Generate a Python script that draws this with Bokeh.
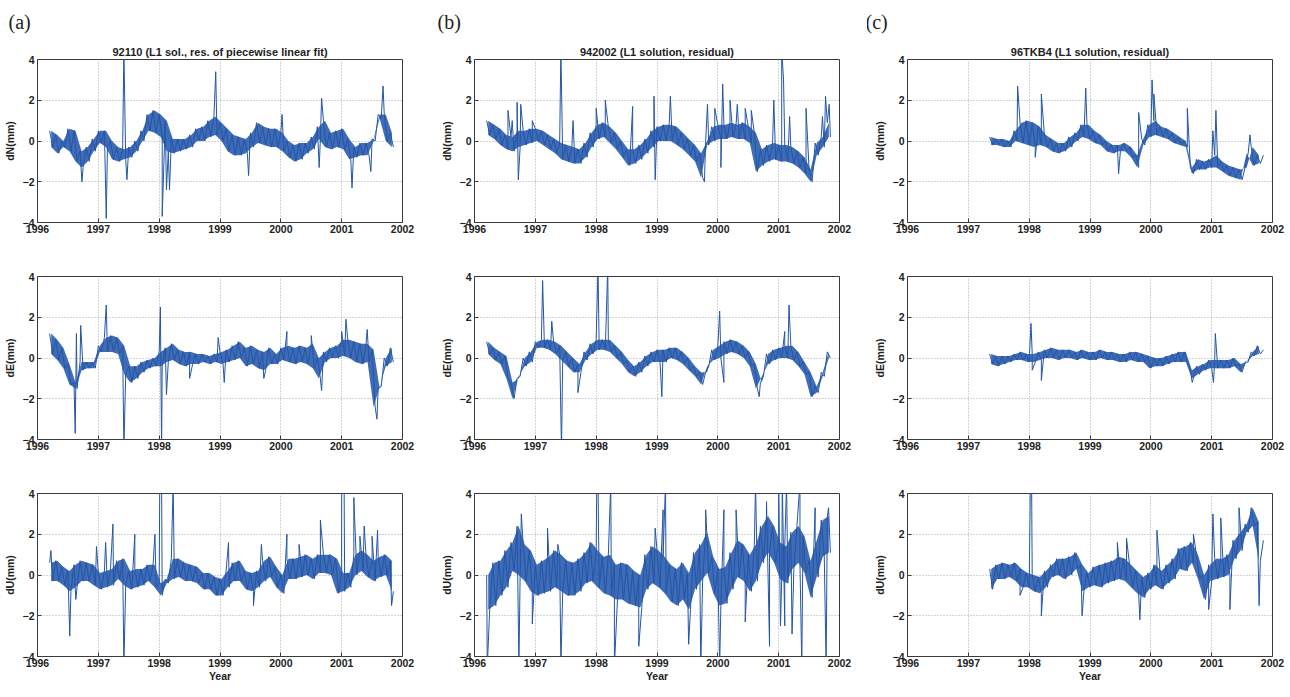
import numpy as np
from bokeh.plotting import figure
from bokeh.models import FixedTicker, Title
from bokeh.layouts import row, column
from bokeh.embed import file_html
from bokeh.resources import INLINE

# ---------------- data (mm residuals) ----------------
DT = 0.05
T0_AB = 1996.20          # first sample of stations 92110 and 942002
T0_C = 1997.35           # first sample of station 96TKB4
YEARS = [1996, 1997, 1998, 1999, 2000, 2001, 2002]
YTICKS = [-4, -2, 0, 2, 4]

# (a) 92110
a_dN = [0.5, -0.3, 0.3, -0.6, 0.0, -0.3, 0.6, -0.5, 0.5, -1.0, -0.5, -1.3, -0.3, -1.0, 0.1, -0.5,
        0.5, -0.1, 0.5, -0.3, 0.0, -0.9, -0.3, -1.0, -0.4, -0.9, -0.3, -0.8, 0.0, -0.5, 0.5, 0.0,
        1.3, 0.5, 1.5, 0.4, 1.3, 0.2, 1.0, -0.5, 0.1, -0.6, 0.1, -0.5, 0.1, -0.4, 0.3, -0.3,
        0.6, 0.0, 0.7, 0.0, 1.0, 0.2, 1.2, 0.3, 0.9, 0.0, 0.6, -0.5, 0.3, -0.7, 0.2, -0.7,
        0.1, -0.6, 0.4, -0.3, 0.9, -0.1, 0.7, -0.2, 0.6, -0.3, 0.6, -0.3, 0.4, -0.5, 0.0, -0.8,
        -0.2, -1.0, -0.1, -0.9, -0.1, -0.6, 0.2, -0.4, 0.7, 0.1, 1.0, -0.3, 0.4, -0.4, 0.5, -0.3,
        0.6, -0.4, 0.1, -0.9, -0.3, -0.8, -0.1, -0.7, -0.1, -0.7, 0.1, 0.0, 1.3, 1.1, 1.3, 0.0,
        0.4, -0.3]
a_dN_spike_t = [1996.73, 1997.13, 1997.42, 1997.47, 1998.05, 1998.12, 1998.17, 1998.93, 1999.47,
                2000.02, 2000.63, 2000.67, 2001.17, 2001.48, 2001.68]
a_dN_spike_v = [-2.0, -3.8, 4.5, -1.9, -3.7, -2.4, -2.4, 3.4, -1.7,
                1.3, -1.3, 2.1, -2.3, -1.5, 2.7]

a_dE = [1.2, 0.2, 0.9, -0.1, 0.5, -0.5, -0.3, -1.3, -1.2, -1.5, -0.2, -0.6, -0.2, -0.5, -0.2, -0.5,
        0.6, 0.3, 1.0, 0.3, 1.1, 0.3, 1.0, 0.2, 0.6, -0.8, -0.4, -1.2, -0.4, -1.0, -0.2, -0.7,
        -0.1, -0.5, 0.0, -0.4, 0.3, -0.4, 0.5, -0.2, 0.7, -0.1, 0.4, -0.3, 0.3, -0.4, 0.3, -0.3,
        0.2, -0.3, 0.2, -0.2, 0.1, -0.3, 0.2, -0.2, 0.3, -0.3, 0.4, -0.2, 0.6, -0.1, 0.8, 0.0,
        0.5, -0.4, 0.6, -0.3, 0.4, -0.5, 0.3, -0.6, 0.5, -0.3, 0.2, -0.3, 0.5, -0.1, 0.6, -0.2,
        0.5, -0.3, 0.6, -0.2, 0.5, -0.3, 0.7, -0.5, 0.0, -1.0, 0.3, -0.2, 0.5, 0.0, 0.6, 0.0,
        0.9, 0.1, 0.9, 0.0, 0.8, -0.2, 0.7, -0.3, 0.7, -0.2, 0.4, -2.4, -1.5, -1.4, 0.0, -0.4,
        0.5, -0.2]
a_dE_spike_t = [1996.62, 1996.64, 1996.71, 1997.13, 1997.42, 1998.02, 1998.04, 1998.12, 1998.50,
                1998.97, 1999.07, 1999.72, 2000.10, 2000.50, 2000.67, 2001.00, 2001.07, 2001.42, 2001.58]
a_dE_spike_v = [-3.7, 1.2, 1.6, 2.6, -4.5, 2.5, -4.5, -1.8, -1.0,
                1.0, -1.2, -1.0, 1.3, 1.1, -1.6, 1.3, 1.9, 1.4, -3.0]

a_dU = [0.6, -0.3, 0.7, -0.3, 0.4, -0.5, 0.2, -0.8, 0.5, -0.6, 0.7, -0.3, 0.6, -0.3, 0.5, -0.5,
        0.1, -0.7, 0.2, -0.6, 0.3, -0.5, 0.7, -0.2, 0.8, -0.5, 0.2, -0.7, 0.3, -0.6, 0.3, -0.5,
        0.5, -0.3, 0.5, -0.6, -0.4, -1.0, -0.2, -0.4, 0.8, -0.2, 0.8, -0.1, 0.6, -0.3, 0.5, -0.3,
        0.4, -0.4, 0.1, -0.7, 0.1, -0.7, -0.1, -1.0, -0.2, -1.0, 0.2, -0.6, 0.6, -0.3, 0.7, -0.3,
        0.2, -0.7, 0.1, -0.8, 0.2, -0.6, 0.7, -0.3, 0.9, -0.1, 0.4, -0.6, 0.0, -0.9, 0.8, -0.2,
        0.8, -0.2, 0.9, -0.1, 1.0, 0.0, 0.8, -0.2, 1.0, 0.1, 1.0, 0.1, 1.0, 0.0, 0.8, -0.9,
        0.1, -0.8, 0.1, -0.6, 1.0, 0.0, 1.2, 0.2, 1.0, -0.1, 0.7, -0.3, 0.9, -0.1, 1.0, 0.0,
        0.7, -0.8]
a_dU_spike_t = [1996.22, 1996.53, 1996.63, 1996.97, 1997.12, 1997.24, 1997.42, 1997.60, 1997.93,
                1998.01, 1998.04, 1998.23, 1999.14, 1999.55, 1999.68, 2000.10, 2000.30, 2000.65,
                2001.00, 2001.04, 2001.20, 2001.30, 2001.37, 2001.50, 2001.59, 2001.82]
a_dU_spike_v = [1.2, -3.0, -1.2, 1.4, 1.6, 2.5, -4.5, 2.0, 2.0,
                4.5, 4.5, 4.5, 1.6, -1.5, 1.5, 2.0, 1.5, 2.7,
                4.5, 4.5, 3.8, 1.9, 2.4, 1.9, 2.2, -1.5]

# (b) 942002
b_dN = [1.0, 0.3, 0.8, 0.1, 0.6, -0.2, 0.3, -0.4, 0.2, -0.5, 0.5, -0.3, 0.5, -0.2, 0.6, -0.1,
        0.6, 0.0, 0.5, -0.2, 0.3, -0.4, 0.1, -0.6, -0.1, -0.9, -0.2, -1.0, -0.3, -1.1, -0.4, -1.1,
        -0.1, -0.8, 0.4, -0.3, 0.8, 0.1, 0.9, 0.2, 0.7, -0.1, 0.4, -0.4, 0.0, -0.8, -0.4, -1.2,
        -0.4, -1.1, -0.2, -0.9, 0.1, -0.6, 0.5, -0.3, 0.7, 0.0, 0.8, 0.0, 0.8, 0.0, 0.7, -0.2,
        0.4, -0.4, 0.1, -0.7, -0.2, -1.0, -0.6, -1.8, 0.0, -0.2, 0.7, 0.0, 0.8, 0.1, 0.8, 0.1,
        0.9, 0.2, 0.8, 0.1, 0.9, 0.1, 0.7, -0.1, 0.4, -1.5, -0.4, -1.2, -0.2, -1.0, -0.1, -0.9,
        -0.2, -1.0, -0.2, -1.0, -0.3, -1.1, -0.5, -1.3, -0.8, -1.6, -1.4, -2.0, -0.1, -0.7, 0.2, -0.3,
        0.9, 0.2]
b_dN_spike_t = [1996.55, 1996.62, 1996.70, 1996.72, 1996.76, 1996.95, 1997.42, 1997.62, 1998.00,
                1998.15, 1998.60, 1998.95, 1998.97, 1999.22, 1999.78, 1999.83, 1999.95, 2000.05,
                2000.08, 2000.20, 2000.32, 2000.45, 2000.55, 2000.92, 2001.05, 2001.08, 2001.18,
                2001.45, 2001.72, 2001.77, 2001.83]
b_dN_spike_v = [1.5, 1.0, 1.9, -1.9, 1.8, 1.0, 4.5, 1.0, 1.6,
                2.0, 1.7, 2.2, -1.9, 2.2, -2.0, 1.8, 1.6, -1.3,
                2.8, 2.0, 1.8, 1.6, 1.5, 2.0, 4.5, 3.0, 1.2,
                1.6, 1.2, 2.2, 1.8]

b_dE = [0.8, 0.2, 0.5, -0.1, 0.3, -0.3, 0.1, -1.0, -1.2, -2.0, -1.0, -0.9, 0.0, -0.4, 0.3, -0.2,
        0.8, 0.5, 0.9, 0.5, 0.9, 0.4, 0.8, 0.2, 0.6, -0.1, 0.3, -0.4, 0.0, -0.7, -0.3, -0.7,
        0.3, -0.1, 0.7, 0.2, 0.9, 0.4, 0.9, 0.4, 0.9, 0.3, 0.6, 0.0, 0.3, -0.3, -0.1, -0.7,
        -0.4, -0.9, -0.2, -0.7, 0.1, -0.4, 0.3, -0.2, 0.4, -0.2, 0.4, -0.2, 0.5, 0.0, 0.5, -0.1,
        0.3, -0.3, 0.0, -0.6, -0.4, -0.9, -0.7, -1.3, -0.7, -0.4, 0.4, -0.1, 0.6, 0.0, 0.8, 0.2,
        0.9, 0.3, 0.8, 0.2, 0.6, 0.0, 0.3, -0.4, -0.3, -1.5, -1.2, -0.9, 0.2, -0.3, 0.4, -0.1,
        0.5, 0.0, 0.6, 0.0, 0.6, -0.1, 0.3, -0.4, -0.2, -0.8, -0.7, -1.9, -1.4, -1.7, -0.7, -0.9,
        0.3, 0.0]
b_dE_spike_t = [1997.12, 1997.27, 1997.43, 1997.70, 1998.03, 1998.19, 1999.08, 2000.03, 2000.10,
                2000.68, 2001.10, 2001.17]
b_dE_spike_v = [3.8, 1.8, -4.5, -1.7, 4.5, 4.5, -1.9, 2.3, -1.2,
                -1.9, 1.3, 2.6]

b_dU = [0.0, -1.7, 0.6, -1.5, 0.7, -1.0, 1.2, -0.6, 1.6, 0.2, 2.4, 0.0, 1.5, -0.3, 1.2, -0.8,
        0.5, -1.0, 0.7, -0.9, 0.9, -0.8, 1.2, -0.6, 1.0, -0.8, 0.7, -1.0, 0.6, -1.0, 0.8, -0.8,
        1.1, -0.4, 1.6, -0.3, 1.2, -0.6, 0.9, -0.9, 1.0, -1.0, 0.5, -1.2, 0.6, -1.2, 0.5, -1.4,
        0.2, -1.5, 0.0, -1.6, 1.0, -0.7, 1.4, -0.4, 1.2, -0.6, 0.9, -0.9, 0.5, -1.3, 0.3, -1.5,
        0.6, -1.2, 0.1, -1.7, 1.1, -0.7, 1.5, -0.3, 2.1, 0.1, 0.9, -0.9, 0.3, -1.5, 0.4, -1.4,
        1.1, -0.7, 1.7, -0.1, 1.5, -0.3, 1.0, -0.8, 1.5, -0.3, 2.4, 0.6, 2.9, 1.1, 2.4, 0.6,
        1.6, -0.2, 1.4, -0.4, 2.1, 0.3, 2.4, 0.6, 1.9, 0.1, 0.7, -1.1, 1.7, -0.1, 2.7, 0.9,
        2.9, 1.1]
b_dU_spike_t = [1996.21, 1996.73, 1996.77, 1996.95, 1997.20, 1997.37, 1997.42, 1998.01, 1998.03,
                1998.24, 1998.30, 1998.70, 1998.97, 1999.10, 1999.14, 1999.52, 1999.72, 1999.80,
                2000.03, 2000.10, 2000.30, 2000.45, 2000.62, 2000.80, 2000.85, 2001.00, 2001.03,
                2001.06, 2001.10, 2001.13, 2001.22, 2001.35, 2001.38, 2001.60, 2001.78, 2001.82]
b_dU_spike_v = [-4.5, -4.5, 3.0, -2.4, 2.3, 1.5, -4.5, 4.5, 4.5,
                4.5, -4.5, -3.5, 2.3, 3.2, 4.5, -3.4, -4.5, 3.2,
                -4.5, 3.2, 3.2, -2.3, 4.5, 3.6, -3.5, 4.5, -2.5,
                4.5, -2.5, 4.5, -2.9, 4.5, -4.5, 3.3, -4.5, 3.3]

# (c) 96TKB4
c_dN = [0.2, -0.2, 0.1, -0.2, 0.1, -0.3, 0.0, -0.3, 0.5, 0.0, 0.9, -0.1, 1.0, -0.2, 0.9, -0.3,
        0.7, -0.2, 0.3, -0.3, 0.1, -0.5, -0.1, -0.6, -0.1, -0.5, 0.2, -0.3, 0.4, 0.0, 0.8, 0.2,
        0.8, 0.1, 0.5, -0.1, 0.3, -0.2, 0.0, -0.5, -0.2, -0.6, -0.2, -0.5, -0.1, -0.5, -0.3, -0.8,
        -0.7, -1.3, 0.1, -0.2, 0.8, 0.2, 1.0, 0.3, 0.7, 0.2, 0.6, 0.1, 0.4, -0.1, 0.2, -0.2,
        0.0, -0.3, -1.3, -1.6, -0.9, -1.4, -1.0, -1.4, -0.9, -1.3, -0.7, -1.3, -1.0, -1.5, -1.2, -1.7,
        -1.3, -1.8, -1.4, -1.9, -1.3, -0.6, -0.3, -1.2, -0.7, -1.1, -0.7]
c_dN_spike_t = [1997.81, 1998.10, 1998.20, 1998.93, 1999.47, 1999.80, 2000.02, 2000.05, 2000.60,
                2001.02, 2001.07, 2001.63]
c_dN_spike_v = [2.7, -0.8, 2.3, 2.6, -1.6, 1.4, 3.0, 2.3, 1.6,
                0.5, 1.5, 0.3]

c_dE = [0.2, -0.3, 0.1, -0.4, 0.1, -0.3, 0.1, -0.2, 0.2, -0.1, 0.3, -0.1, 0.2, -0.2, 0.2, -0.2,
        0.3, -0.1, 0.4, 0.0, 0.5, 0.0, 0.4, -0.1, 0.4, 0.0, 0.4, 0.0, 0.3, -0.1, 0.4, 0.0,
        0.3, -0.1, 0.3, -0.1, 0.4, 0.0, 0.3, -0.1, 0.3, -0.1, 0.2, -0.2, 0.2, -0.2, 0.3, -0.1,
        0.3, -0.2, 0.2, -0.2, 0.1, -0.5, 0.0, -0.4, 0.0, -0.4, 0.1, -0.3, 0.2, -0.2, 0.3, -0.2,
        0.3, -0.2, -0.6, -1.0, -0.4, -0.8, -0.3, -0.6, -0.1, -0.5, -0.1, -0.5, -0.1, -0.5, -0.1, -0.5,
        0.0, -0.4, -0.3, -0.7, -0.2, -0.2, 0.3, 0.1, 0.6, 0.2, 0.4]
c_dE_spike_t = [1998.03, 1998.05, 1998.20, 2000.68, 2001.03, 2001.06]
c_dE_spike_v = [1.7, -0.6, -1.1, -1.2, -1.2, 1.2]

c_dU = [0.3, -0.7, 0.5, -0.2, 0.6, -0.2, 0.5, -0.1, 0.6, -0.3, 0.3, -0.6, 0.1, -0.6, 0.0, -0.8,
        -0.1, -0.9, 0.2, -0.6, 0.5, -0.1, 0.8, 0.0, 0.8, -0.2, 0.9, 0.0, 1.1, 0.3, 0.5, -0.8,
        0.1, -0.6, 0.4, -0.5, 0.5, -0.6, 0.6, -0.4, 0.7, -0.3, 0.9, -0.2, 0.8, -0.3, 0.5, -0.6,
        0.2, -0.9, -0.1, -1.1, 0.1, -0.7, 0.5, -0.5, 0.2, -0.7, 0.5, -0.4, 0.8, -0.2, 1.3, 0.3,
        1.4, 0.2, 1.6, 0.6, 1.0, -0.2, 0.0, -1.2, 0.5, -0.3, 0.8, -0.2, 0.8, -0.1, 1.0, 0.0,
        1.7, 0.8, 2.1, 1.2, 2.5, 2.1, 3.3, 2.4, 2.6, 0.7, 1.7]
c_dU_spike_t = [1997.85, 1998.02, 1998.04, 1998.20, 1998.87, 1999.45, 1999.60, 1999.82, 2000.10,
                2000.70, 2000.95, 2001.02, 2001.15, 2001.30, 2001.45, 2001.78]
c_dU_spike_v = [-1.0, 4.5, 4.5, -2.0, -2.0, 1.6, 1.8, -2.2, 2.2,
                2.0, -1.7, 3.0, 2.8, -1.7, 3.3, -1.5]

TITLES = ["92110 (L1 sol., res. of piecewise linear fit)",
          "942002 (L1 solution, residual)",
          "96TKB4 (L1 solution, residual)"]
LETTERS = ["(a)", "(b)", "(c)"]
YLABELS = ["dN(mm)", "dE(mm)", "dU(mm)"]

# ---------------- layout / style ----------------
FW, FH = 365, 163
LEFT = [29, 35, 40]
RIGHT = [35, 28, 16]
TOP = [59, 26, 26]
BOTTOM = [28, 28, 26]
LETTER_OFF = [-29, -37, -42]
LINE_COLOR = "#2455a6"
BAND_COLOR = "#2a5cae"
FONT = "Liberation Sans"


def merged(t0, vals, st, sv):
    t = t0 + DT * np.arange(len(vals))
    x = np.concatenate([t, np.asarray(st, float)])
    y = np.concatenate([np.asarray(vals, float), np.asarray(sv, float)])
    o = np.argsort(x, kind="stable")
    return x[o], y[o]


def band(t0, vals):
    v = np.asarray(vals, float)
    t = t0 + DT * np.arange(len(v))
    m = len(v) // 2
    xs = (t[0:2 * m:2] + t[1:2 * m:2]) / 2.0
    return xs, v[0:2 * m:2], v[1:2 * m:2]


def panel(ci, ri, t0, vals, st, sv):
    p = figure(frame_width=FW, frame_height=FH, x_range=(1996, 2002), y_range=(-4, 4),
               output_backend="svg", toolbar_location=None,
               min_border_left=LEFT[ci], min_border_right=RIGHT[ci],
               min_border_top=TOP[ri], min_border_bottom=BOTTOM[ri])
    p.background_fill_color = "white"
    p.border_fill_color = "white"
    p.outline_line_color = "#3a3a3a"
    p.outline_line_width = 1

    bx, b1, b2 = band(t0, vals)
    p.varea(x=bx, y1=b1, y2=b2, fill_color=BAND_COLOR, fill_alpha=0.9)
    x, y = merged(t0, vals, st, sv)
    p.line(x, y, line_color=LINE_COLOR, line_width=1)

    p.xaxis.ticker = FixedTicker(ticks=YEARS)
    p.yaxis.ticker = FixedTicker(ticks=YTICKS)
    for ax in (p.xaxis[0], p.yaxis[0]):
        ax.axis_line_color = None
        ax.major_tick_in = 4
        ax.major_tick_out = 0
        ax.major_tick_line_color = "#3a3a3a"
        ax.minor_tick_line_color = None
        ax.major_label_text_font = FONT
        ax.major_label_text_font_style = "bold"
        ax.major_label_text_font_size = "10.5px"
        ax.major_label_text_color = "#222222"
        ax.axis_label_text_font = FONT
        ax.axis_label_text_font_style = "bold"
        ax.axis_label_text_font_size = "10.5px"
        ax.axis_label_text_color = "#222222"
    p.xaxis.major_label_standoff = 2
    p.yaxis.major_label_standoff = 3
    p.yaxis.axis_label = YLABELS[ri]
    p.yaxis.axis_label_standoff = 4
    if ri == 2:
        p.xaxis.axis_label = "Year"
        p.xaxis.axis_label_standoff = 0
    for g in (p.xgrid[0], p.ygrid[0]):
        g.grid_line_color = "#a8a8a8"
        g.grid_line_dash = "1 2"
        g.grid_line_width = 1

    if ri == 0:
        # outer: panel letter; inner (next to the frame): station title
        p.title.text = LETTERS[ci]
        p.title.align = "left"
        p.title.offset = LETTER_OFF[ci]
        p.title.text_font = "Liberation Serif"
        p.title.text_font_style = "normal"
        p.title.text_font_size = "20px"
        p.title.text_color = "#222222"
        p.title.standoff = 17
        p.add_layout(Title(text=TITLES[ci], align="center",
                           text_font=FONT, text_font_style="bold",
                           text_font_size="11px", text_color="#222222", standoff=4), "above")
    return p


SERIES = [
    [(T0_AB, a_dN, a_dN_spike_t, a_dN_spike_v),
     (T0_AB, b_dN, b_dN_spike_t, b_dN_spike_v),
     (T0_C, c_dN, c_dN_spike_t, c_dN_spike_v)],
    [(T0_AB, a_dE, a_dE_spike_t, a_dE_spike_v),
     (T0_AB, b_dE, b_dE_spike_t, b_dE_spike_v),
     (T0_C, c_dE, c_dE_spike_t, c_dE_spike_v)],
    [(T0_AB, a_dU, a_dU_spike_t, a_dU_spike_v),
     (T0_AB, b_dU, b_dU_spike_t, b_dU_spike_v),
     (T0_C, c_dU, c_dU_spike_t, c_dU_spike_v)],
]

rows = []
for ri in range(3):
    rows.append(row([panel(ci, ri, *SERIES[ri][ci]) for ci in range(3)], spacing=0))
layout = column(rows, spacing=0)

open("out.html", "w").write(file_html(layout, INLINE))
